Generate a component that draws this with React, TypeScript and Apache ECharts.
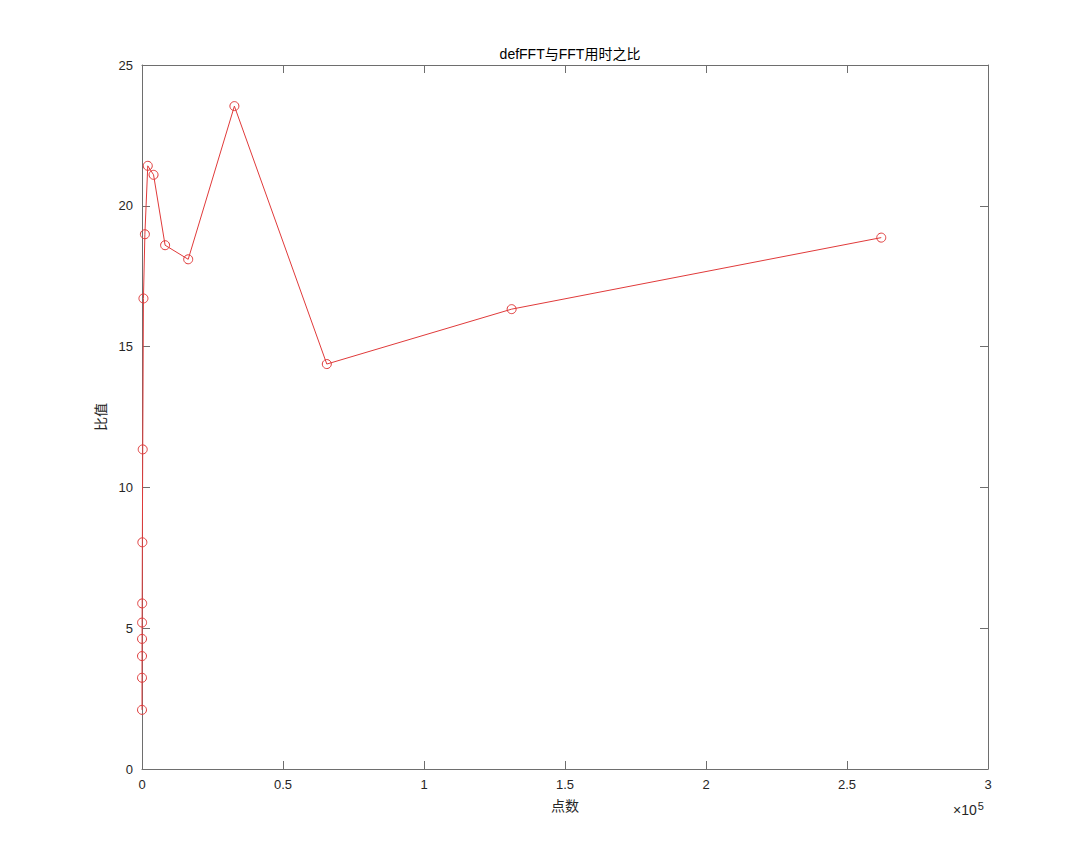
import React, { useEffect, useRef } from "react";
import * as echarts from "echarts";

const pointCounts = [2, 4, 8, 16, 32, 64, 128, 256, 512, 1024, 2048, 4096, 8192, 16384, 32768, 65536, 131072, 262144];
const ratios = [2.1, 3.24, 4.01, 4.62, 5.2, 5.88, 8.05, 11.35, 16.71, 18.99, 21.42, 21.1, 18.6, 18.1, 23.54, 14.38, 16.33, 18.87];
const xTickLabels = ["0", "0.5", "1", "1.5", "2", "2.5", "3"];
const titleText = "defFFT与FFT用时之比";
const xName = "点数";
const yName = "比值";

const FONT = "'Liberation Sans', Arial, 'Noto Sans CJK SC', sans-serif";
const TEXT = "#262626";
const AXIS = "#6e6e6e";
const RED = "#e03a3a";

export default function App() {
  const ref = useRef<HTMLDivElement>(null);
  useEffect(() => {
    if (!ref.current) return;
    const chart = echarts.init(ref.current, undefined, { renderer: "svg" });
    const tickStyle = { inside: true, length: 8, lineStyle: { color: AXIS, width: 1 } };
    const lineStyle = { show: true, onZero: false, lineStyle: { color: AXIS, width: 1 } };
    chart.setOption({
      animation: false,
      backgroundColor: "#ffffff",
      title: {
        text: titleText,
        left: 565,
        textAlign: "center",
        top: 42,
        textStyle: { fontFamily: FONT, fontSize: 14, fontWeight: "normal", color: "#000" },
      },
      grid: { left: 142, right: 104, top: 65, bottom: 96, containLabel: false },
      xAxis: [
        {
          type: "value",
          position: "bottom",
          min: 0,
          max: 300000,
          interval: 50000,
          name: xName,
          nameLocation: "middle",
          nameGap: 30,
          nameTextStyle: { fontFamily: FONT, fontSize: 14, color: TEXT },
          axisLine: lineStyle,
          axisTick: tickStyle,
          splitLine: { show: false },
          axisLabel: {
            fontFamily: FONT,
            fontSize: 13,
            color: TEXT,
            margin: 9,
            formatter: (v: number) => xTickLabels[Math.round(v / 50000)] ?? "",
          },
        },
        {
          type: "value",
          position: "top",
          min: 0,
          max: 300000,
          interval: 50000,
          axisLine: lineStyle,
          axisTick: tickStyle,
          axisLabel: { show: false },
          splitLine: { show: false },
        },
      ],
      yAxis: [
        {
          type: "value",
          position: "left",
          min: 0,
          max: 25,
          interval: 5,
          name: yName,
          nameLocation: "middle",
          nameGap: 28,
          nameRotate: 90,
          nameTextStyle: { fontFamily: FONT, fontSize: 14, color: TEXT },
          axisLine: lineStyle,
          axisTick: tickStyle,
          splitLine: { show: false },
          axisLabel: { fontFamily: FONT, fontSize: 13, color: TEXT, margin: 9 },
        },
        {
          type: "value",
          position: "right",
          min: 0,
          max: 25,
          interval: 5,
          axisLine: lineStyle,
          axisTick: tickStyle,
          axisLabel: { show: false },
          splitLine: { show: false },
        },
      ],
      graphic: [
        {
          type: "text",
          left: 953,
          top: 800,
          style: {
            text: "×10{sup|5}",
            fontFamily: FONT,
            fontSize: 14,
            fill: TEXT,
            rich: {
              sup: { fontSize: 11, verticalAlign: "top", padding: [0, 0, 9, 1], fontFamily: FONT, fill: TEXT },
            },
          },
        },
      ],
      series: [
        {
          type: "line",
          xAxisIndex: 0,
          yAxisIndex: 0,
          data: pointCounts.map((x, i) => [x, ratios[i]]),
          symbol: "circle",
          symbolSize: 9,
          showAllSymbol: true,
          lineStyle: { color: RED, width: 1 },
          itemStyle: { color: "transparent", borderColor: RED, borderWidth: 1 },
          emphasis: { disabled: true },
        },
      ],
    });
    return () => chart.dispose();
  }, []);
  return <div ref={ref} style={{ width: 1092, height: 865, position: "absolute", left: 0, top: 0 }} />;
}
